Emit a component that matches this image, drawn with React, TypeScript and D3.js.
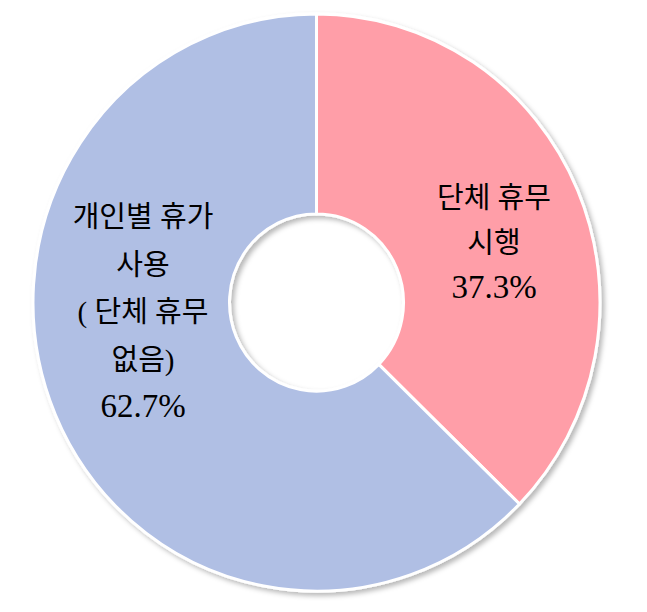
import React from 'react';
import * as d3 from 'd3';

// 단체 휴무 시행 여부 (%)
const categories = ['단체 휴무 시행', '개인별 휴가 사용 (단체 휴무 없음)'];
const shares = [37.3, 62.7];
const colors = ['#FF9EA8', '#B0BFE4'];
const labelLines = [
  ['단체 휴무', '시행'],
  ['개인별 휴가', '사용', '( 단체 휴무', '없음)'],
];

const width = 647;
const height = 612;
const cx = 316.5;
const cy = 302.5;
const outerR = 283.5;
const innerR = 87;
const yStretch = 1.018;

// label placement (first baseline, line height) relative to page
const labelLayout = [
  { x: 494, y: 208, lh: 45 },
  { x: 143, y: 227, lh: 47.5 },
];

const App: React.FC = () => {
  const pie = d3.pie<number>().sort(null).value(d => d)(shares);
  const arc = d3.arc<d3.PieArcDatum<number>>()
    .innerRadius(innerR)
    .outerRadius(outerR);

  return (
    <svg width={width} height={height} style={{ position: 'absolute', left: 0, top: 0 }}>
      <defs>
        <filter id="shadow" x="-10%" y="-10%" width="120%" height="120%">
          <feDropShadow dx="3" dy="3" stdDeviation="2.5" floodColor="#000" floodOpacity="0.28" />
        </filter>
      </defs>
      <rect width={width} height={height} fill="#fff" />
      <g transform={`translate(${cx},${cy}) scale(1,${yStretch})`} filter="url(#shadow)">
        {pie.map((d, i) => (
          <path
            key={categories[i]}
            d={arc(d) || ''}
            fill={colors[i]}
            stroke="#fff"
            strokeWidth={3}
            strokeLinejoin="round"
          />
        ))}
      </g>
      {labelLines.map((lines, i) => {
        const L = labelLayout[i];
        return (
          <text
            key={i}
            textAnchor="middle"
            fontFamily="'Liberation Serif', 'Noto Sans CJK KR', serif"
            fontSize={29}
            fill="#000"
          >
            {lines.map((t, j) => (
              <tspan key={j} x={L.x} y={L.y + j * L.lh}>
                {t}
              </tspan>
            ))}
            <tspan x={L.x} y={L.y + lines.length * L.lh} fontSize={33}>
              {d3.format('.1f')(shares[i])}%
            </tspan>
          </text>
        );
      })}
    </svg>
  );
};

export default App;
